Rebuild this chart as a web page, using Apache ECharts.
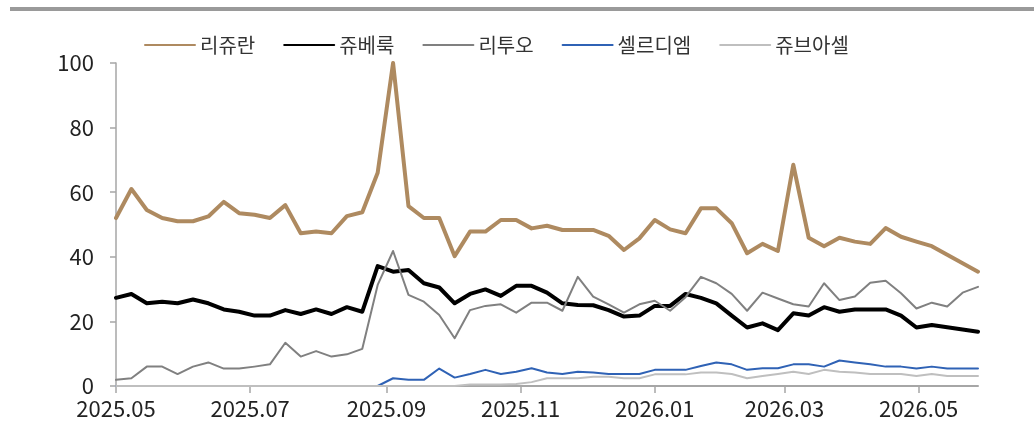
<!DOCTYPE html>
<html>
<head>
<meta charset="utf-8">
<script src="https://cdn.jsdelivr.net/npm/echarts@6/dist/echarts.min.js"></script>
<style>
  html, body { margin: 0; padding: 0; background: #fff; }
  #chart { width: 1034px; height: 424px; }
</style>
</head>
<body>
<div id="chart"></div>
<script>
// 주간 데이터 (2025.05 ~ 2026.05)
const dates = [
  '2025-05-01', '2025-05-08', '2025-05-15', '2025-05-22', '2025-05-29',
  '2025-06-05', '2025-06-12', '2025-06-19', '2025-06-26',
  '2025-07-03', '2025-07-10', '2025-07-17', '2025-07-24', '2025-07-31',
  '2025-08-07', '2025-08-14', '2025-08-21', '2025-08-28',
  '2025-09-04', '2025-09-11', '2025-09-18', '2025-09-25',
  '2025-10-02', '2025-10-09', '2025-10-16', '2025-10-23', '2025-10-30',
  '2025-11-06', '2025-11-13', '2025-11-20', '2025-11-27',
  '2025-12-04', '2025-12-11', '2025-12-18', '2025-12-25',
  '2026-01-01', '2026-01-08', '2026-01-15', '2026-01-22', '2026-01-29',
  '2026-02-05', '2026-02-12', '2026-02-19', '2026-02-26',
  '2026-03-05', '2026-03-12', '2026-03-19', '2026-03-26',
  '2026-04-02', '2026-04-09', '2026-04-16', '2026-04-23', '2026-04-30',
  '2026-05-07', '2026-05-14', '2026-05-21', '2026-05-28'
]

const rejuran = [
  52, 61, 54.5, 52, 51, 51, 52.5, 57, 53.5, 53, 52, 56,
  47.3, 47.8, 47.3, 52.6, 53.8, 66, 100, 55.7, 52, 52, 40.2,
  47.8, 47.8, 51.4, 51.4, 48.8, 49.6, 48.3, 48.3, 48.3, 46.5, 42.1,
  45.7, 51.4, 48.5, 47.3, 55, 55, 50.4, 41.1, 44, 41.8, 68.5,
  45.9, 43.3, 45.9, 44.7, 44, 48.9, 46.2, 44.7, 43.3, 40.6, 38, 35.4
]
const juvelook = [
  27.3, 28.5, 25.6, 26.1, 25.6, 26.8, 25.6, 23.7, 23, 21.8, 21.8, 23.5,
  22.3, 23.7, 22.3, 24.4, 23, 37.1, 35.4, 35.9, 31.8, 30.5, 25.6,
  28.5, 29.9, 27.9, 31, 31, 28.9, 25.6, 25.1, 25, 23.5, 21.5,
  21.8, 24.8, 24.8, 28.5, 27.3, 25.6, 21.8, 18.1, 19.4, 17.3, 22.5,
  21.8, 24.4, 23, 23.7, 23.7, 23.7, 21.8, 18.1, 18.9, 18.2, 17.5, 16.8
]
const lituo = [
  1.9, 2.4, 6, 6, 3.7, 6, 7.3, 5.4, 5.4, 6, 6.7, 13.4,
  9.1, 10.8, 9.1, 9.8, 11.5, 31.3, 41.8, 28.2, 26.1, 22, 14.8,
  23.5, 24.8, 25.3, 22.7, 25.8, 25.8, 23.3, 33.8, 27.7, 25.3, 22.7,
  25.3, 26.4, 23.3, 27.5, 33.8, 31.8, 28.5, 23.3, 28.9, 27.1, 25.3,
  24.6, 31.8, 26.6, 27.7, 32, 32.6, 28.7, 24, 25.8, 24.6, 28.9, 30.7
]
const cellredm = [
  0, 0, 0, 0, 0, 0, 0, 0, 0, 0, 0, 0,
  0, 0, 0, 0, 0, 0, 2.4, 1.9, 1.9, 5.4, 2.6,
  3.7, 5, 3.7, 4.4, 5.5, 4.2, 3.7, 4.4, 4.2, 3.7, 3.7,
  3.7, 5, 5, 5, 6.2, 7.3, 6.7, 5, 5.5, 5.5, 6.7,
  6.7, 6, 7.9, 7.3, 6.7, 6, 6, 5.4, 6, 5.4, 5.4, 5.4
]
const juveacell = [
  0, 0, 0, 0, 0, 0, 0, 0, 0, 0, 0, 0,
  0, 0, 0, 0, 0, 0, 0, 0, 0, 0, 0,
  0.5, 0.5, 0.5, 0.6, 1.2, 2.4, 2.4, 2.4, 2.9, 2.9, 2.4,
  2.4, 3.6, 3.6, 3.6, 4.2, 4.2, 3.7, 2.4, 3.1, 3.7, 4.4,
  3.7, 5, 4.4, 4.2, 3.7, 3.7, 3.7, 3.1, 3.7, 3.1, 3.1, 3.1
]

const tickDates = ['2025-05-01', '2025-07-01', '2025-09-01', '2025-11-01', '2026-01-01', '2026-03-01', '2026-05-01']
const tickLabels = ['2025.05', '2025.07', '2025.09', '2025.11', '2026.01', '2026.03', '2026.05']

const FONT = '"Noto Sans CJK KR", "Noto Sans", sans-serif'

const chart = echarts.init(document.getElementById('chart'))

// 날짜 -> 타임스탬프 (value 축으로 그림)
const toTs = (d) => +echarts.number.parseDate(d)
const times = dates.map(toTs)
const tickValues = tickDates.map(toTs)
const pairs = (vals) => times.map((t, i) => [t, vals[i]])

const makeLine = (name, vals, color, width) => ({
  name,
  type: 'line',
  data: pairs(vals),
  symbol: 'none',
  showSymbol: false,
  lineStyle: { color, width, cap: 'round', join: 'round' },
  itemStyle: { color },
  emphasis: { disabled: true }
})

const option = {
  animation: false,
  graphic: [
    {
      type: 'rect',
      shape: { x: 10, y: 7, width: 1024, height: 4 },
      style: { fill: '#9a9a9a' }
    }
  ],
  legend: {
    left: 139,
    top: 30,
    itemWidth: 50,
    itemHeight: 14,
    itemGap: 28,
    // 범례는 선만 표시 (원형 심볼 숨김)
    itemStyle: { opacity: 0 },
    textStyle: { fontFamily: FONT, fontSize: 20, color: '#333' },
    data: ['리쥬란', '쥬베룩', '리투오', '셀르디엠', '쥬브아셀']
  },
  grid: {
    left: 116,
    right: 56,
    top: 63,
    bottom: 38,
    containLabel: false
  },
  xAxis: {
    type: 'value',
    min: times[0],
    max: times[times.length - 1],
    axisLine: { show: true, lineStyle: { color: '#a6a6a6', width: 2 } },
    axisTick: {
      show: true,
      length: 7,
      customValues: tickValues,
      lineStyle: { color: '#a6a6a6', width: 1.5 }
    },
    axisLabel: {
      customValues: tickValues,
      margin: 12,
      fontFamily: FONT,
      fontSize: 22,
      color: '#222',
      formatter: (val) => {
        const i = tickValues.indexOf(val)
        return i >= 0 ? tickLabels[i] : ''
      }
    },
    splitLine: { show: false }
  },
  yAxis: {
    type: 'value',
    min: 0,
    max: 100,
    interval: 20,
    axisLine: { show: true, lineStyle: { color: '#a6a6a6', width: 1.5 } },
    axisTick: { show: true, length: 6, lineStyle: { color: '#a6a6a6', width: 1.5 } },
    axisLabel: { margin: 22, fontFamily: FONT, fontSize: 22, color: '#222' },
    splitLine: { show: false }
  },
  series: [
    makeLine('리쥬란', rejuran, '#ae8a60', 4),
    makeLine('쥬베룩', juvelook, '#000000', 4),
    makeLine('리투오', lituo, '#808080', 2),
    makeLine('셀르디엠', cellredm, '#2f62b5', 2),
    makeLine('쥬브아셀', juveacell, '#bfbfbf', 2)
  ]
}

chart.setOption(option)
</script>
</body>
</html>
